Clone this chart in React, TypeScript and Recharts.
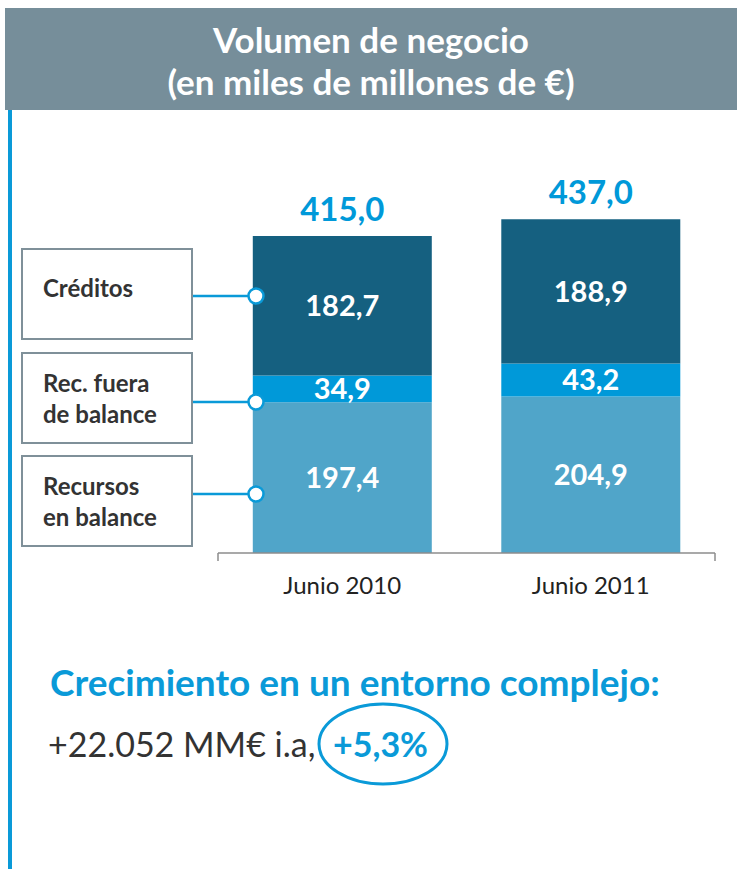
import React from "react";
import { BarChart, Bar, XAxis, YAxis, LabelList } from "recharts";

const CATEGORIES = ["Junio 2010", "Junio 2011"];
const RECURSOS = [197.4, 204.9];
const FUERA = [34.9, 43.2];
const CREDITOS = [182.7, 188.9];
const TOTALS = [415.0, 437.0];
const SERIES_NAMES = ["Créditos", "Rec. fuera de balance", "Recursos en balance"];

const DARK = "#156080";
const MID = "#0099d9";
const LIGHT = "#50a5c9";
const FONT = "Lato, 'Open Sans', sans-serif";

const data = CATEGORIES.map((name, i) => ({
    name,
    recursos: RECURSOS[i],
    fuera: FUERA[i],
    creditos: CREDITOS[i],
    total: TOTALS[i],
}));

const fmt = (v: any) => Number(v).toFixed(1).replace(".", ",");

function TotalLabel(props: any) {
    const { x, y, width, index } = props;
    return (
        <text
            x={x + width / 2}
            y={y - 15}
            textAnchor="middle"
            fill={MID}
            fontSize={33}
            fontWeight={700}
            fontFamily={FONT}
        >
            {fmt(TOTALS[index])}
        </text>
    );
}

const legendBox = (top: number, lines: string[]) => (
    <div
        style={{
            position: "absolute",
            left: 21,
            top,
            width: 168,
            height: 88,
            border: "2px solid #7f9099",
            boxSizing: "content-box",
            color: "#333",
            fontWeight: 700,
            fontSize: 24,
            lineHeight: "31px",
        }}
    >
        <div style={{ position: "absolute", left: 20, top: lines.length === 1 ? 22 : 13, whiteSpace: "nowrap" }}>
            {lines.map((l) => (
                <div key={l}>{l}</div>
            ))}
        </div>
    </div>
);

export default function App() {
    return (
        <div
            style={{
                position: "absolute",
                left: 0,
                top: 0,
                width: 737,
                height: 869,
                background: "#fff",
                fontFamily: FONT,
                overflow: "hidden",
            }}
        >
            <div
                style={{
                    position: "absolute",
                    left: 5,
                    top: 8,
                    width: 732,
                    height: 102,
                    background: "#768e9a",
                    color: "#fff",
                    fontWeight: 700,
                    fontSize: 35,
                    lineHeight: "42px",
                    textAlign: "center",
                    paddingTop: 10,
                    boxSizing: "border-box",
                }}
            >
                <div>Volumen de negocio</div>
                <div>(en miles de millones de €)</div>
            </div>
            <div style={{ position: "absolute", left: 8, top: 110, width: 4, height: 759, background: "#0a9ad8" }} />

            <div style={{ position: "absolute", left: 0, top: 0 }}>
                <BarChart
                    width={737}
                    height={620}
                    data={data}
                    margin={{ top: 171, right: 22, left: 218, bottom: 17 }}
                    barCategoryGap="14%"
                >
                    <XAxis
                        xAxisId={0}
                        type="number"
                        domain={[0, 2]}
                        ticks={[0, 1, 2]}
                        allowDataOverflow
                        tick={() => <g />}
                        tickSize={8}
                        height={10}
                        stroke="#8c8c8c"
                        axisLine={{ stroke: "#8c8c8c", strokeWidth: 1.5 }}
                        tickLine={{ stroke: "#8c8c8c", strokeWidth: 1.5 }}
                    />
                    <XAxis
                        xAxisId={1}
                        dataKey="name"
                        axisLine={false}
                        tickLine={false}
                        tickSize={0}
                        tickMargin={14}
                        height={40}
                        tick={{ fill: "#222", fontSize: 24, fontFamily: FONT }}
                    />
                    <YAxis hide domain={[0, 500]} />
                    <Bar xAxisId={1} dataKey="recursos" name={SERIES_NAMES[2]} stackId="a" fill={LIGHT} isAnimationActive={false}>
                        <LabelList dataKey="recursos" position="center" formatter={fmt} fill="#fff" fontSize={29} fontWeight={700} fontFamily={FONT} />
                    </Bar>
                    <Bar xAxisId={1} dataKey="fuera" name={SERIES_NAMES[1]} stackId="a" fill={MID} isAnimationActive={false}>
                        <LabelList dataKey="fuera" position="center" formatter={fmt} fill="#fff" fontSize={29} fontWeight={700} fontFamily={FONT} />
                    </Bar>
                    <Bar xAxisId={1} dataKey="creditos" name={SERIES_NAMES[0]} stackId="a" fill={DARK} isAnimationActive={false}>
                        <LabelList dataKey="creditos" position="center" formatter={fmt} fill="#fff" fontSize={29} fontWeight={700} fontFamily={FONT} />
                        <LabelList dataKey="total" content={<TotalLabel />} />
                    </Bar>
                </BarChart>
            </div>

            {legendBox(248, ["Créditos"])}
            {legendBox(352, ["Rec. fuera", "de balance"])}
            {legendBox(455, ["Recursos", "en balance"])}

            <svg width={737} height={869} style={{ position: "absolute", left: 0, top: 0, pointerEvents: "none" }}>
                {[296, 402, 494].map((cy) => (
                    <g key={cy}>
                        <line x1={193} x2={248} y1={cy} y2={cy} stroke="#0a9ad8" strokeWidth={2.5} />
                        <circle cx={256} cy={cy} r={7.5} fill="#fff" stroke="#0a9ad8" strokeWidth={2.5} />
                    </g>
                ))}
                <ellipse cx={383} cy={744} rx={64} ry={40} fill="none" stroke="#0a9ad8" strokeWidth={3} />
            </svg>

            <div
                style={{
                    position: "absolute",
                    left: 50,
                    top: 659,
                    color: "#0a9ad8",
                    fontWeight: 700,
                    fontSize: 37,
                    lineHeight: "46px",
                    whiteSpace: "nowrap",
                }}
            >
                Crecimiento en un entorno complejo:
            </div>
            <div
                style={{
                    position: "absolute",
                    left: 48,
                    top: 722,
                    color: "#333",
                    fontSize: 34,
                    lineHeight: "44px",
                    whiteSpace: "nowrap",
                }}
            >
                +22.052 MM€ i.a,
                <span style={{ position: "absolute", left: 285, color: "#0a9ad8", fontWeight: 700 }}>+5,3%</span>
            </div>
        </div>
    );
}
